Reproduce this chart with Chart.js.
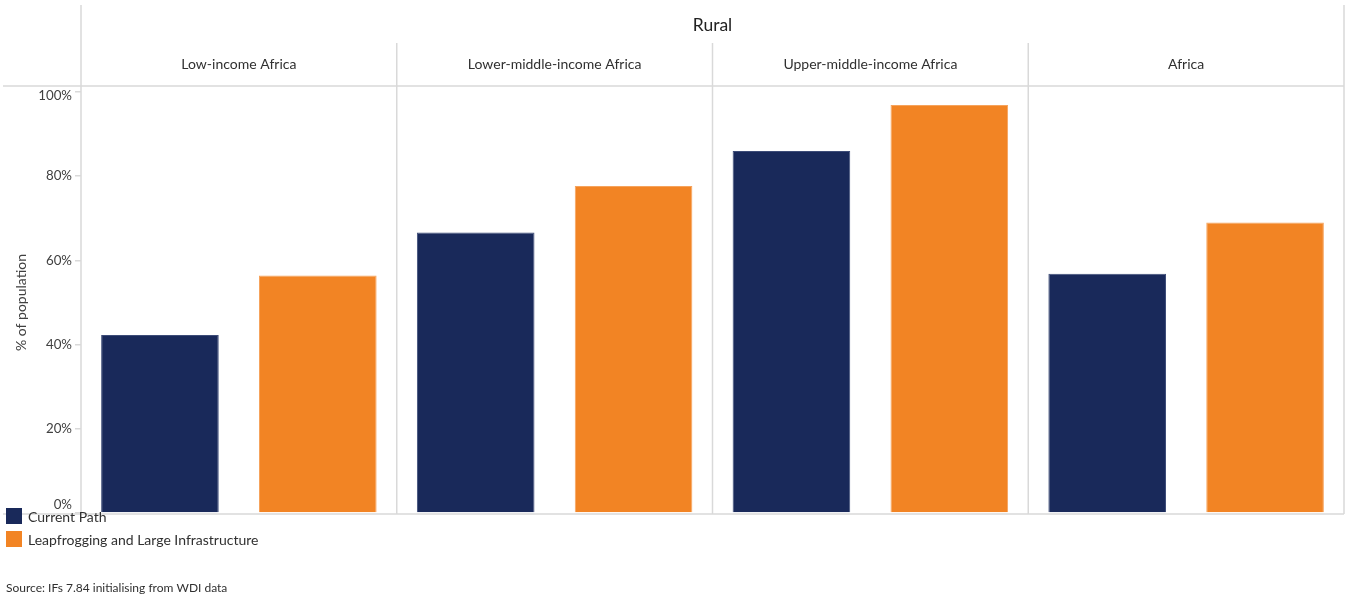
<!DOCTYPE html>
<html>
<head>
<meta charset="utf-8">
<script src="https://cdn.jsdelivr.net/npm/chart.js@4/dist/chart.umd.min.js"></script>
<style>
  html, body { margin: 0; padding: 0; background: #ffffff; }
  #wrap { position: relative; width: 1352px; height: 599px; }
</style>
</head>
<body>
<div id="wrap"><canvas id="chart" width="1352" height="599"></canvas></div>
<script>
// Rural access shares by income group, % of population
const panelTitle = 'Rural';
const regions = ['Low-income Africa', 'Lower-middle-income Africa', 'Upper-middle-income Africa', 'Africa'];
const currentPath = [42.3, 66.6, 86.0, 56.8];
const leapfrogging = [56.4, 77.7, 96.9, 69.0];
const seriesNames = ['Current Path', 'Leapfrogging and Large Infrastructure'];
const yTicks = [0, 20, 40, 60, 80, 100];
const sourceNote = 'Source: IFs 7.84 initialising from WDI data';

const FONT = 'Lato, "Open Sans", sans-serif';
const GRID = '#d9d9d9';
const TEXT = '#404040';
const NAVY = '#19295a';
const ORANGE = '#f28424';

// Panel frame, headers, legend and source line
const framePlugin = {
  id: 'frame',
  afterDraw(chart) {
    const ctx = chart.ctx;
    const area = chart.chartArea;
    const xs = chart.scales.x;
    const n = regions.length;
    const left = area.left, right = area.right;
    const bottom = area.bottom + 1;
    const headerLine = 86;
    const headerTop = 43;
    const outerTop = 5;

    ctx.save();
    ctx.strokeStyle = GRID;
    ctx.lineWidth = 1.5;
    ctx.beginPath();
    // outer verticals
    ctx.moveTo(left, outerTop); ctx.lineTo(left, bottom);
    ctx.moveTo(right, outerTop); ctx.lineTo(right, bottom);
    // panel dividers
    for (let i = 0; i < n - 1; i++) {
      const bx = (xs.getPixelForValue(i) + xs.getPixelForValue(i + 1)) / 2;
      ctx.moveTo(bx, headerTop); ctx.lineTo(bx, bottom);
    }
    // header baseline and plot baseline
    ctx.moveTo(3, headerLine); ctx.lineTo(right, headerLine);
    ctx.moveTo(3, bottom); ctx.lineTo(right, bottom);
    ctx.stroke();

    // titles
    ctx.fillStyle = '#222222';
    ctx.textAlign = 'center';
    ctx.textBaseline = 'middle';
    ctx.font = '17.5px ' + FONT;
    ctx.fillText(panelTitle, (left + right) / 2, 25);
    ctx.font = '14px ' + FONT;
    ctx.fillStyle = '#303030';
    for (let i = 0; i < n; i++) {
      ctx.fillText(regions[i], xs.getPixelForValue(i), 64);
    }

    // legend
    ctx.textAlign = 'left';
    ctx.font = '14px ' + FONT;
    chart.data.datasets.forEach((ds, i) => {
      const y = 508 + i * 23;
      ctx.fillStyle = ds.backgroundColor;
      ctx.fillRect(6, y, 16, 16);
      ctx.fillStyle = '#303030';
      ctx.fillText(ds.label, 28, y + 9);
    });

    // source
    ctx.font = '12px ' + FONT;
    ctx.fillStyle = '#303030';
    ctx.fillText(sourceNote, 6, 588);
    ctx.restore();
  }
};

new Chart(document.getElementById('chart'), {
  type: 'bar',
  data: {
    labels: regions,
    datasets: [
      { label: seriesNames[0], data: currentPath, backgroundColor: NAVY, borderColor: '#3d4c78', borderWidth: 1 },
      { label: seriesNames[1], data: leapfrogging, backgroundColor: ORANGE, borderColor: '#f6a35c', borderWidth: 1 }
    ]
  },
  options: {
    responsive: false,
    animation: false,
    layout: { padding: { top: 92, right: 8, bottom: 86, left: 0 } },
    datasets: {
      bar: { categoryPercentage: 1.0, barPercentage: 0.745 }
    },
    plugins: {
      legend: { display: false },
      tooltip: { enabled: false },
      title: { display: false }
    },
    scales: {
      x: {
        display: false,
        offset: true
      },
      y: {
        min: 0,
        max: 100,
        afterFit(scale) { scale.width = 81; },
        afterBuildTicks(scale) { scale.ticks = yTicks.map(v => ({ value: v })); },
        border: { display: false },
        grid: {
          drawOnChartArea: false,
          drawTicks: true,
          tickLength: 6,
          color: GRID,
          lineWidth: 1.5
        },
        ticks: {
          padding: 3,
          color: TEXT,
          font: { family: FONT, size: 13.3, lineHeight: 0.6 },
          // end labels are nudged inward: 0% up off the baseline, 100% down under the header line
          callback: v => {
            if (v === 0) return [v + '%', '', ''];
            if (v === 100) return ['', v + '%'];
            return v + '%';
          }
        },
        title: {
          display: true,
          text: '% of population',
          color: TEXT,
          font: { family: FONT, size: 14 },
          padding: { top: 13, bottom: 0 }
        }
      }
    }
  },
  plugins: [framePlugin]
});
</script>
</body>
</html>
